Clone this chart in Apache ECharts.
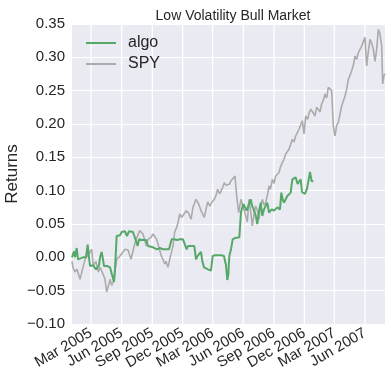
<!DOCTYPE html>
<html><head><meta charset="utf-8">
<script src="https://cdn.jsdelivr.net/npm/echarts@6/dist/echarts.min.js"></script>
<style>html,body{margin:0;padding:0;background:#fff}#c{width:391px;height:384px}</style>
</head><body><div id="c"></div>
<script>
const spyDates = ['2005-01-03','2005-01-06','2005-01-12','2005-01-18','2005-01-27','2005-02-02','2005-02-11','2005-02-17','2005-02-23','2005-03-03','2005-03-08','2005-03-16','2005-03-23','2005-03-28','2005-04-02','2005-04-06','2005-04-12','2005-04-17','2005-04-21','2005-04-27','2005-05-02','2005-05-07','2005-05-12','2005-05-17','2005-05-21','2005-05-27','2005-06-02','2005-06-11','2005-06-20','2005-06-29','2005-07-10','2005-07-17','2005-07-25','2005-08-04','2005-08-14','2005-08-19','2005-08-28','2005-09-03','2005-09-08','2005-09-14','2005-09-18','2005-09-28','2005-10-03','2005-10-08','2005-10-12','2005-10-18','2005-10-23','2005-10-29','2005-11-02','2005-11-07','2005-11-13','2005-11-17','2005-11-22','2005-11-28','2005-12-02','2005-12-12','2005-12-19','2005-12-26','2006-01-01','2006-01-10','2006-01-18','2006-01-25','2006-02-04','2006-02-09','2006-02-14','2006-02-21','2006-02-27','2006-03-06','2006-03-11','2006-03-16','2006-03-22','2006-03-26','2006-03-31','2006-04-05','2006-04-10','2006-04-15','2006-04-21','2006-04-25','2006-05-01','2006-05-07','2006-05-12','2006-05-18','2006-05-25','2006-05-30','2006-06-04','2006-06-09','2006-06-13','2006-06-18','2006-06-23','2006-06-28','2006-07-03','2006-07-08','2006-07-14','2006-07-18','2006-07-22','2006-07-28','2006-08-02','2006-08-07','2006-08-13','2006-08-17','2006-08-21','2006-08-27','2006-09-01','2006-09-06','2006-09-12','2006-09-16','2006-09-20','2006-09-26','2006-10-01','2006-10-06','2006-10-12','2006-10-16','2006-10-20','2006-10-26','2006-10-31','2006-11-05','2006-11-11','2006-11-15','2006-11-19','2006-11-25','2006-11-30','2006-12-05','2006-12-11','2006-12-15','2006-12-20','2006-12-26','2006-12-30','2007-01-02','2007-01-07','2007-01-12','2007-01-17','2007-01-22','2007-01-28','2007-02-01','2007-02-06','2007-02-11','2007-02-16','2007-02-21','2007-02-26','2007-03-03','2007-03-08','2007-03-13','2007-03-18','2007-03-23','2007-03-28','2007-04-02','2007-04-07','2007-04-12','2007-04-17','2007-04-22','2007-04-27','2007-05-02','2007-05-07','2007-05-12','2007-05-17','2007-05-22','2007-05-27','2007-06-01','2007-06-06','2007-06-11','2007-06-16','2007-06-21','2007-06-26','2007-07-01','2007-07-06','2007-07-11','2007-07-16','2007-07-21','2007-07-24','2007-07-28','2007-07-31'];
const spyValues = [-0.006,-0.015,-0.022,-0.018,-0.033,-0.021,-0.003,-0.006,0.005,0.012,-0.013,-0.006,-0.022,-0.015,-0.013,-0.025,-0.033,-0.052,-0.045,-0.033,-0.042,-0.037,-0.021,-0.003,-0.006,0.002,0.000,0.012,0.011,-0.003,0.020,0.030,0.040,0.035,0.017,0.027,0.030,0.035,0.038,0.027,0.020,0.002,-0.003,-0.010,-0.006,-0.015,-0.003,0.009,0.017,0.038,0.045,0.052,0.065,0.060,0.062,0.070,0.066,0.057,0.075,0.087,0.080,0.070,0.060,0.072,0.083,0.077,0.083,0.087,0.093,0.102,0.095,0.098,0.105,0.112,0.108,0.105,0.110,0.115,0.114,0.122,0.092,0.067,0.087,0.078,0.070,0.072,0.053,0.087,0.069,0.047,0.065,0.077,0.069,0.057,0.075,0.087,0.078,0.082,0.095,0.107,0.102,0.117,0.111,0.122,0.120,0.127,0.135,0.142,0.147,0.155,0.152,0.162,0.168,0.177,0.173,0.182,0.180,0.192,0.195,0.205,0.185,0.212,0.207,0.216,0.222,0.218,0.220,0.212,0.225,0.222,0.218,0.230,0.237,0.245,0.239,0.255,0.252,0.250,0.197,0.182,0.198,0.202,0.215,0.227,0.225,0.242,0.252,0.267,0.273,0.280,0.288,0.302,0.297,0.307,0.305,0.317,0.315,0.330,0.287,0.309,0.327,0.321,0.312,0.294,0.312,0.342,0.335,0.317,0.260,0.273,0.275];
const algoDates = ['2005-01-03','2005-01-09','2005-01-12','2005-01-17','2005-01-21','2005-01-27','2005-02-05','2005-02-14','2005-02-19','2005-02-23','2005-02-26','2005-03-07','2005-03-16','2005-03-25','2005-03-28','2005-04-02','2005-04-06','2005-04-09','2005-04-18','2005-04-27','2005-05-03','2005-05-09','2005-05-12','2005-05-17','2005-05-21','2005-05-27','2005-06-01','2005-06-05','2005-06-11','2005-06-17','2005-06-23','2005-06-29','2005-07-05','2005-07-11','2005-07-19','2005-07-23','2005-08-01','2005-08-07','2005-08-13','2005-08-19','2005-08-25','2005-09-03','2005-09-09','2005-09-15','2005-09-24','2005-10-03','2005-10-12','2005-10-21','2005-10-29','2005-11-05','2005-11-14','2005-11-23','2005-12-02','2005-12-13','2005-12-17','2005-12-26','2006-01-05','2006-01-10','2006-01-16','2006-01-25','2006-01-29','2006-02-03','2006-02-09','2006-02-15','2006-02-24','2006-03-01','2006-03-08','2006-03-17','2006-03-26','2006-04-04','2006-04-10','2006-04-14','2006-04-17','2006-04-20','2006-04-25','2006-04-30','2006-05-07','2006-05-13','2006-05-20','2006-05-25','2006-06-01','2006-06-04','2006-06-11','2006-06-16','2006-06-23','2006-06-27','2006-07-03','2006-07-07','2006-07-13','2006-07-18','2006-07-23','2006-07-28','2006-08-02','2006-08-12','2006-08-17','2006-08-25','2006-09-01','2006-09-11','2006-09-19','2006-09-23','2006-09-27','2006-10-01','2006-10-11','2006-10-21','2006-10-26','2006-10-31','2006-11-05','2006-11-11','2006-11-15','2006-11-20','2006-11-24','2006-12-03','2006-12-09','2006-12-13','2006-12-18','2006-12-23','2006-12-28'];
const algoValues = [0.000,0.009,0.000,0.014,-0.003,0.000,0.000,0.000,0.019,0.000,-0.013,-0.012,-0.018,-0.012,0.000,0.008,-0.003,-0.013,-0.013,-0.015,-0.018,-0.037,-0.018,0.032,0.032,0.033,0.038,0.040,0.039,0.032,0.039,0.040,0.038,0.040,0.017,0.027,0.026,0.029,0.026,0.017,0.017,0.015,0.017,0.012,0.014,0.012,0.012,0.012,0.027,0.027,0.026,0.027,0.027,0.012,0.017,0.017,0.017,-0.003,0.003,0.008,-0.006,-0.015,-0.012,-0.018,-0.020,0.002,0.003,0.003,0.003,0.002,-0.012,-0.034,-0.025,0.002,0.012,0.027,0.029,0.027,0.030,0.068,0.080,0.077,0.070,0.072,0.087,0.078,0.075,0.065,0.050,0.069,0.082,0.062,0.072,0.082,0.067,0.072,0.070,0.075,0.072,0.097,0.087,0.082,0.092,0.097,0.117,0.114,0.120,0.110,0.112,0.117,0.098,0.095,0.103,0.105,0.128,0.114,0.114];
const xTickDates = ['2005-03-01','2005-06-01','2005-09-01','2005-12-01','2006-03-01','2006-06-01','2006-09-01','2006-12-01','2007-03-01','2007-06-01'];
const yTickValues = [-0.10,-0.05,0.00,0.05,0.10,0.15,0.20,0.25,0.30,0.35];
const xStart = '2005-01-03', xEnd = '2007-07-31';
const seriesNames = ['algo','SPY'];

const MONTHS = ['Jan','Feb','Mar','Apr','May','Jun','Jul','Aug','Sep','Oct','Nov','Dec'];
const ts = s => new Date(s + 'T00:00:00Z').getTime();
const FONT = '"Liberation Sans", Arial, sans-serif';
const TXT = '#262626';
const tickTs = xTickDates.map(ts);
const yMin = yTickValues[0], yMax = yTickValues[yTickValues.length - 1];

const gridSeries = tickTs.map(t => ({
  type: 'line', z: 2, silent: true, showSymbol: false, symbol: 'none',
  lineStyle: {color: '#ffffff', width: 1.3}, emphasis: {disabled: true},
  data: [[t, yMin], [t, yMax]]
}));

const chart = echarts.init(document.getElementById('c'), null, {renderer: 'canvas'});
chart.setOption({
  animation: false,
  backgroundColor: '#ffffff',
  title: {
    text: 'Low Volatility Bull Market', left: 228, top: 4, textAlign: 'center',
    textStyle: {fontFamily: FONT, fontSize: 14, fontWeight: 'normal', color: TXT}
  },
  legend: {
    orient: 'vertical', left: 81, top: 30, itemWidth: 30, itemHeight: 2, itemGap: 5,
    icon: 'rect', data: seriesNames,
    formatter: name => '{t|' + name + '}',
    textStyle: {fontFamily: FONT, fontSize: 16, color: TXT,
      rich: {t: {fontFamily: FONT, fontSize: 16, color: TXT, padding: [0, 0, 0, 7]}}}
  },
  grid: {left: 72, right: 6, top: 24, bottom: 60, show: true, backgroundColor: '#EAEAF2', borderWidth: 0, outerBoundsMode: 'none'},
  xAxis: {
    type: 'value', min: ts(xStart), max: ts(xEnd),
    axisLine: {show: false},
    axisTick: {show: false, customValues: tickTs},
    splitLine: {show: false},
    axisLabel: {
      customValues: tickTs, rotate: 30, margin: 8, hideOverlap: false,
      fontFamily: FONT, fontSize: 15, color: TXT,
      formatter: v => { const d = new Date(v); return MONTHS[d.getUTCMonth()] + ' ' + d.getUTCFullYear(); }
    }
  },
  yAxis: {
    type: 'value', min: yMin, max: yMax, interval: 0.05,
    name: 'Returns', nameLocation: 'middle', nameGap: 51, nameMoveOverlap: false,
    nameTextStyle: {fontFamily: FONT, fontSize: 17, color: TXT},
    axisLine: {show: false}, axisTick: {show: false},
    splitLine: {show: true, lineStyle: {color: '#ffffff', width: 1.2}},
    axisLabel: {
      margin: 7, fontFamily: FONT, fontSize: 15, color: TXT,
      formatter: v => (v < 0 ? '\u2212' : '') + Math.abs(v).toFixed(2)
    }
  },
  series: gridSeries.concat([
    {name: seriesNames[0], type: 'line', showSymbol: false, symbol: 'none', z: 4,
     color: '#55A868', lineStyle: {width: 2, color: '#55A868'},
     data: algoDates.map((d, i) => [ts(d), algoValues[i]])},
    {name: seriesNames[1], type: 'line', showSymbol: false, symbol: 'none', z: 3,
     color: '#ABABAB', lineStyle: {width: 1.6, color: '#ABABAB'},
     data: spyDates.map((d, i) => [ts(d), spyValues[i]])}
  ])
});
</script></body></html>
